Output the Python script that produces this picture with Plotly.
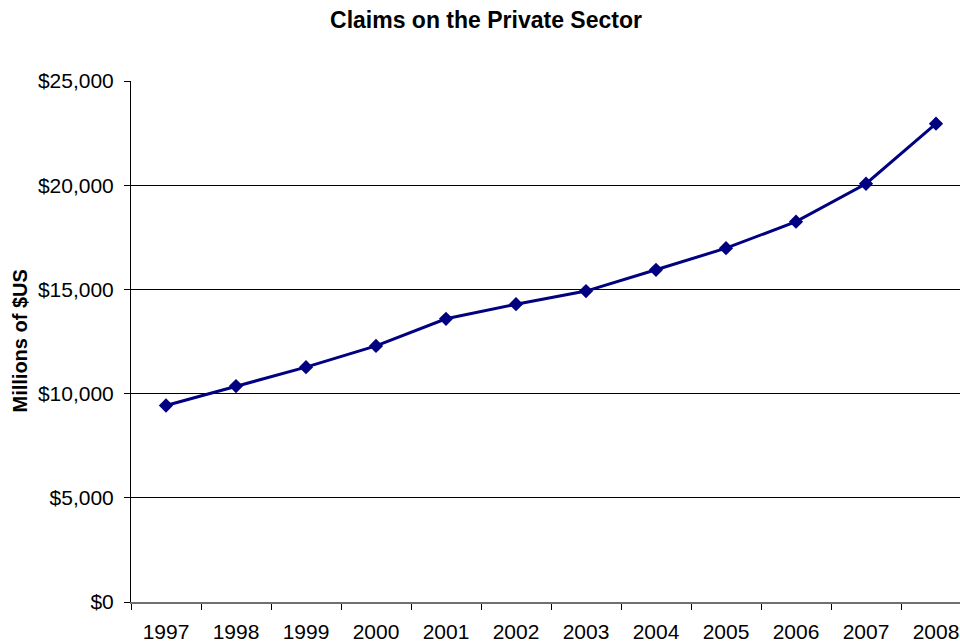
import plotly.graph_objects as go

# Claims on the private sector, millions of US dollars
years = ["1997", "1998", "1999", "2000", "2001", "2002",
         "2003", "2004", "2005", "2006", "2007", "2008"]
claims = [9430, 10360, 11270, 12290, 13590, 14290,
          14920, 15940, 16980, 18250, 20070, 22950]
y_ticks = [0, 5000, 10000, 15000, 20000, 25000]

W, H = 960, 644
left, top, bottom = 131, 81, 42
cat_px = 70  # pixel width of one category slot
plot_w = W - left

fig = go.Figure(
    go.Scatter(
        x=years,
        y=claims,
        mode="lines+markers",
        line=dict(color="#000080", width=3),
        marker=dict(symbol="diamond", size=11, color="#000080"),
        cliponaxis=False,
        showlegend=False,
    )
)

font_family = "Liberation Sans, Arial, sans-serif"

fig.update_layout(
    width=W,
    height=H,
    margin=dict(l=left, r=0, t=top, b=bottom, pad=0),
    paper_bgcolor="white",
    plot_bgcolor="white",
    font=dict(family=font_family, size=21, color="black"),
    title=dict(
        text="<b>Claims on the Private Sector</b>",
        font=dict(size=23, family=font_family, color="black"),
        x=486 / W,
        xanchor="center",
        xref="container",
        y=1 - 20 / H,
        yanchor="middle",
        yref="container",
    ),
    annotations=[
        dict(
            text="<b>Millions of $US</b>",
            textangle=-90,
            xref="paper",
            yref="paper",
            x=(19 - left) / plot_w,
            y=0.5,
            xanchor="center",
            yanchor="middle",
            showarrow=False,
            font=dict(size=20, family=font_family, color="black"),
        )
    ],
)

fig.update_xaxes(
    type="category",
    range=[-0.5, -0.5 + plot_w / cat_px],
    tickson="boundaries",
    ticks="outside",
    ticklen=6,
    tickcolor="black",
    tickwidth=1,
    ticklabelstandoff=10,
    showline=True,
    linecolor="#707070",
    linewidth=2,
    showgrid=False,
    zeroline=False,
    tickfont=dict(size=21),
    fixedrange=True,
)

fig.update_yaxes(
    range=[0, 25000],
    tickvals=y_ticks,
    tickformat="$,",
    ticks="outside",
    ticklen=6,
    tickcolor="black",
    tickwidth=1,
    ticklabelstandoff=6,
    showline=True,
    linecolor="black",
    linewidth=1,
    showgrid=True,
    gridcolor="black",
    gridwidth=1,
    zeroline=False,
    tickfont=dict(size=21),
    automargin=False,
    fixedrange=True,
)

fig.write_html("out.html")
